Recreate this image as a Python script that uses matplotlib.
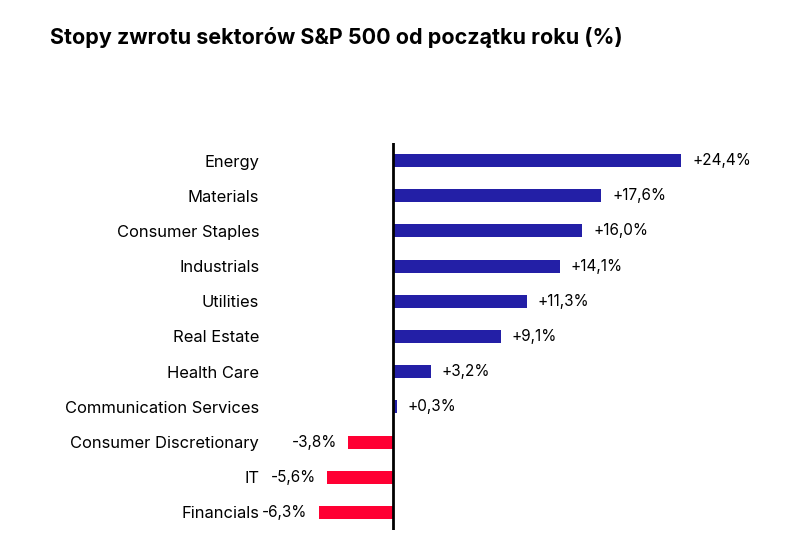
import matplotlib.pyplot as plt

# data
sectors = ['Energy', 'Materials', 'Consumer Staples', 'Industrials', 'Utilities',
           'Real Estate', 'Health Care', 'Communication Services',
           'Consumer Discretionary', 'IT', 'Financials']
returns = [24.4, 17.6, 16.0, 14.1, 11.3, 9.1, 3.2, 0.3, -3.8, -5.6, -6.3]

blue = '#231FA6'
red = '#FF0033'

plt.rcParams['font.family'] = ['Inter', 'DejaVu Sans']

fig = plt.figure(figsize=(7.93, 5.46), dpi=100)
W, H = 793, 546
ax = fig.add_axes([262 / W, (H - 530) / H, (760 - 262) / W, (530 - 143) / H])

ypos = list(range(len(sectors)))
colors = [blue if v >= 0 else red for v in returns]
ax.barh(ypos, returns, height=0.37, color=colors)
ax.axvline(0, color='black', lw=2)

# value labels
for y, v in zip(ypos, returns):
    txt = ('+' if v >= 0 else '') + f'{v:.1f}%'.replace('.', ',')
    if v >= 0:
        ax.annotate(txt, (v, y), xytext=(11, 0), textcoords='offset pixels',
                    ha='left', va='center', fontsize=11)
    else:
        ax.annotate(txt, (v, y), xytext=(-11, 0), textcoords='offset pixels',
                    ha='right', va='center', fontsize=11)

ax.set_xlim(-(393 - 262) / 11.82, (760 - 393) / 11.82)
ax.set_ylim(len(sectors) - 0.5, -0.5)
ax.set_yticks(ypos)
ax.set_yticklabels(sectors, fontsize=11.9)
ax.tick_params(axis='y', length=0, pad=2)
ax.set_xticks([])
for s in ax.spines.values():
    s.set_visible(False)

fig.text(50 / W, 1 - 38 / H, 'Stopy zwrotu sektorów S&P 500 od początku roku (%)',
         fontsize=15.5, fontweight='bold', ha='left', va='center')

fig.savefig('out.png', dpi=100)
